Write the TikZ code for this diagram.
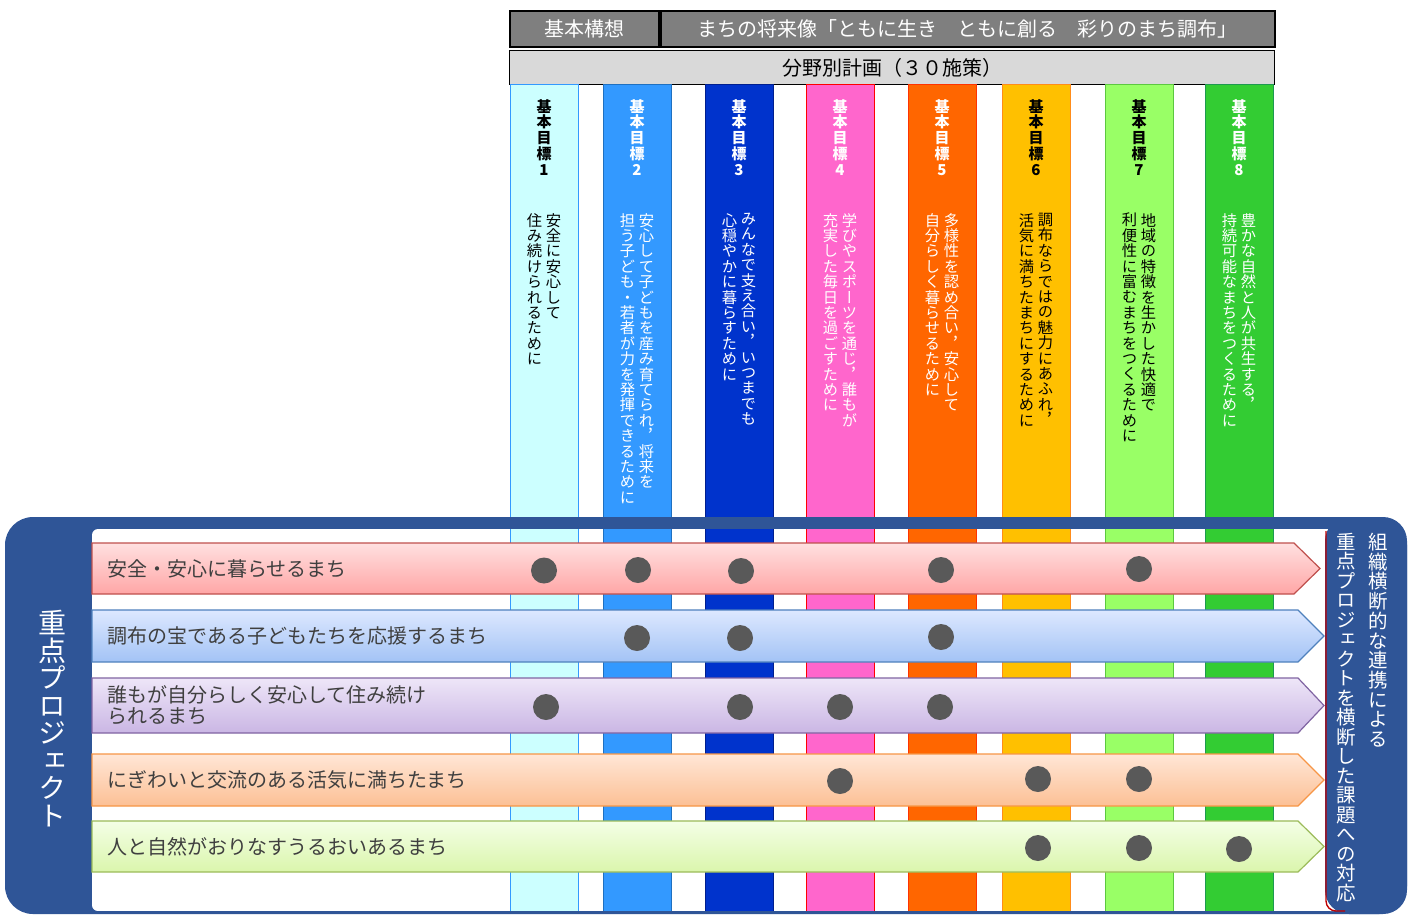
\documentclass[tikz,border=0pt]{standalone}
\usepackage{fontspec}
\setmainfont{Noto Sans CJK JP}
\newfontfamily\vfont{Noto Sans CJK JP}[RawFeature=+vert]
\usetikzlibrary{shapes.geometric}
\definecolor{framec}{HTML}{2F5597}
\definecolor{hdrgray}{HTML}{7F7F7F}
\definecolor{hdrlight}{HTML}{D9D9D9}
\definecolor{dotc}{HTML}{595959}
\definecolor{rowtext}{HTML}{3F3F3F}
\definecolor{tabred}{HTML}{C00000}
% column colours
\definecolor{c1f}{HTML}{CCFFFF}\definecolor{c1b}{HTML}{3399FF}
\definecolor{c2f}{HTML}{3399FF}\definecolor{c2b}{HTML}{1F70C0}
\definecolor{c3f}{HTML}{0033CC}\definecolor{c3b}{HTML}{001F8F}
\definecolor{c4f}{HTML}{FF66CC}\definecolor{c4b}{HTML}{FF0000}
\definecolor{c5f}{HTML}{FF6600}\definecolor{c5b}{HTML}{FF3300}
\definecolor{c6f}{HTML}{FFC000}\definecolor{c6b}{HTML}{FF8C1A}
\definecolor{c7f}{HTML}{99FF66}\definecolor{c7b}{HTML}{5CC840}
\definecolor{c8f}{HTML}{33CC33}\definecolor{c8b}{HTML}{1E9950}
% row colours
\definecolor{r1t}{HTML}{FFE0E0}\definecolor{r1b}{HTML}{FFA6A6}\definecolor{r1d}{HTML}{C0504D}
\definecolor{r2t}{HTML}{DDE8FF}\definecolor{r2b}{HTML}{A3C3F5}\definecolor{r2d}{HTML}{4F81BD}
\definecolor{r3t}{HTML}{EEE6F8}\definecolor{r3b}{HTML}{CAB6E4}\definecolor{r3d}{HTML}{8064A2}
\definecolor{r4t}{HTML}{FFE6D6}\definecolor{r4b}{HTML}{FCC095}\definecolor{r4d}{HTML}{F79646}
\definecolor{r5t}{HTML}{F4FFE6}\definecolor{r5b}{HTML}{DAF5AC}\definecolor{r5d}{HTML}{9BBB59}
\ExplSyntaxOn
\NewDocumentCommand\vtext{mm}{
  \vbox{\baselineskip=#1\scan_stop:\lineskip=0pt\scan_stop:\lineskiplimit=-100pt\scan_stop:
    \tl_map_inline:nn{#2}{\hbox_to_wd:nn{1em}{\hss##1\hss}}}}
\ExplSyntaxOff
\newcommand\goalcol[9]{%
  \draw[fill=#4, draw=#5, line width=1pt] (#2,84) rectangle (#3,911);
  \node[vlab, text=#6, font=\vfont\bfseries\fontsize{15}{16}\selectfont] (#1h) at ({(#2+#3)/2}, 99) {\vtext{15.8pt}{基本目標#9}};
  \node[vlab, text=#6] (#1r) at ({(#2+#3)/2+9.5}, 213) {\vtext{15.4pt}{#7}};
  \node[vlab, text=#6] (#1l) at ({(#2+#3)/2-9.5}, 213) {\vtext{15.4pt}{#8}};
}
\newcommand\rowband[8]{% #1 name, #2 top, #3 bottom, #4 tip x, #5 topcolor, #6 bottomcolor, #7 border, #8 text
  \path[draw=#7, line width=1.2pt, top color=#5, bottom color=#6]
    (92,#2) -- ({#4-26},#2) -- (#4,{(#2+#3)/2}) -- ({#4-26},#3) -- (92,#3) -- cycle;
  \node[rowlab] (#1) at (107,{(#2+#3)/2}) {#8};
}
\begin{document}
\begin{tikzpicture}[x=1pt,y=-1pt,
  hdr/.style={draw=black, line width=1.6pt, fill=hdrgray, text=white, inner sep=0pt, anchor=north west, font=\fontsize{20}{22}\selectfont},
  vlab/.style={anchor=north, inner sep=0pt, font=\vfont\fontsize{15.3}{16}\selectfont},
  rowlab/.style={anchor=west, inner sep=0pt, text=rowtext, align=left, font=\fontsize{20}{21}\selectfont},
  dot/.style={circle, fill=dotc, minimum size=26pt, inner sep=0pt}]
\useasboundingbox (0,0) rectangle (1412,914);
% header
\node[hdr, minimum width=149pt, minimum height=36pt] (kihon) at (509,10) {基本構想};
\node[hdr, minimum width=614pt, minimum height=36pt] (shorai) at (660,10) {まちの将来像「ともに生き　ともに創る　彩りのまち調布」};
\node[hdr, fill=hdrlight, text=black, line width=1.4pt, minimum width=765pt, minimum height=34pt] (bunya) at (509,50) {分野別計画（３０施策）};
% frame
\fill[framec, rounded corners=28pt] (5,914) -- (5,517) -- (1407,517) -- (1407,914) -- cycle;
\fill[white, rounded corners=6pt] (92,911) -- (92,529) -- (1340,529) -- (1340,911) -- cycle;
% columns
\goalcol{g1}{510}{578}{c1f}{c1b}{black}{安全に安心して}{住み続けられるために}{1}
\goalcol{g2}{603}{671}{c2f}{c2b}{white}{安心して子どもを産み育てられ，将来を}{担う子ども・若者が力を発揮できるために}{2}
\goalcol{g3}{705}{773}{c3f}{c3b}{white}{みんなで支え合い，いつまでも}{心穏やかに暮らすために}{3}
\goalcol{g4}{806}{874}{c4f}{c4b}{white}{学びやスポーツを通じ，誰もが}{充実した毎日を過ごすために}{4}
\goalcol{g5}{908}{976}{c5f}{c5b}{white}{多様性を認め合い，安心して}{自分らしく暮らせるために}{5}
\goalcol{g6}{1002}{1070}{c6f}{c6b}{black}{調布ならではの魅力にあふれ，}{活気に満ちたまちにするために}{6}
\goalcol{g7}{1105}{1173}{c7f}{c7b}{black}{地域の特徴を生かした快適で}{利便性に富むまちをつくるために}{7}
\goalcol{g8}{1205}{1273}{c8f}{c8b}{white}{豊かな自然と人が共生する，}{持続可能なまちをつくるために}{8}
% blue bar over columns
\fill[framec] (92,517) rectangle (1330,529);
\fill[framec] (92,911) rectangle (1330,914);
% rows
\rowband{p1}{543}{594}{1320}{r1t}{r1b}{r1d}{安全・安心に暮らせるまち}
\rowband{p2}{610}{662}{1324}{r2t}{r2b}{r2d}{調布の宝である子どもたちを応援するまち}
\rowband{p3}{678}{733}{1324}{r3t}{r3b}{r3d}{誰もが自分らしく安心して住み続け\\られるまち}
\rowband{p4}{754}{806}{1324}{r4t}{r4b}{r4d}{にぎわいと交流のある活気に満ちたまち}
\rowband{p5}{821}{872}{1324}{r5t}{r5b}{r5d}{人と自然がおりなすうるおいあるまち}
% dots
\node[dot] (d11) at (544,570.5) {};
\node[dot] (d12) at (638,570) {};
\node[dot] (d13) at (741,571) {};
\node[dot] (d15) at (941,570) {};
\node[dot] (d17) at (1139,569) {};
\node[dot] (d22) at (637,638) {};
\node[dot] (d23) at (740,638) {};
\node[dot] (d25) at (941,637) {};
\node[dot] (d31) at (546,707) {};
\node[dot] (d33) at (740,707) {};
\node[dot] (d34) at (840,707) {};
\node[dot] (d35) at (940,707) {};
\node[dot] (d44) at (840,781) {};
\node[dot] (d46) at (1038,779) {};
\node[dot] (d47) at (1139,779) {};
\node[dot] (d56) at (1038,848) {};
\node[dot] (d57) at (1139,848) {};
\node[dot] (d58) at (1239,849) {};
% right tab
\fill[framec, rounded corners=24pt] (1325,914) -- (1325,517) -- (1407,517) -- (1407,914) -- cycle;
\draw[tabred, line width=1.4pt, rounded corners=10pt] (1326,531) -- (1326,911) -- (1345,911);
% tab texts
\node[anchor=north, inner sep=0pt, text=white, font=\vfont\fontsize{28}{28}\selectfont] (lefttab) at (52,610) {\vtext{27.5pt}{重点プロジェクト}};
\node[anchor=north, inner sep=0pt, text=white, font=\vfont\fontsize{19.5}{20}\selectfont] (rtab1) at (1378,533) {\vtext{19.7pt}{組織横断的な連携による}};
\node[anchor=north, inner sep=0pt, text=white, font=\vfont\fontsize{19.5}{20}\selectfont] (rtab2) at (1346,533) {\vtext{19.5pt}{重点プロジェクトを横断した課題への対応}};
\end{tikzpicture}
\end{document}
